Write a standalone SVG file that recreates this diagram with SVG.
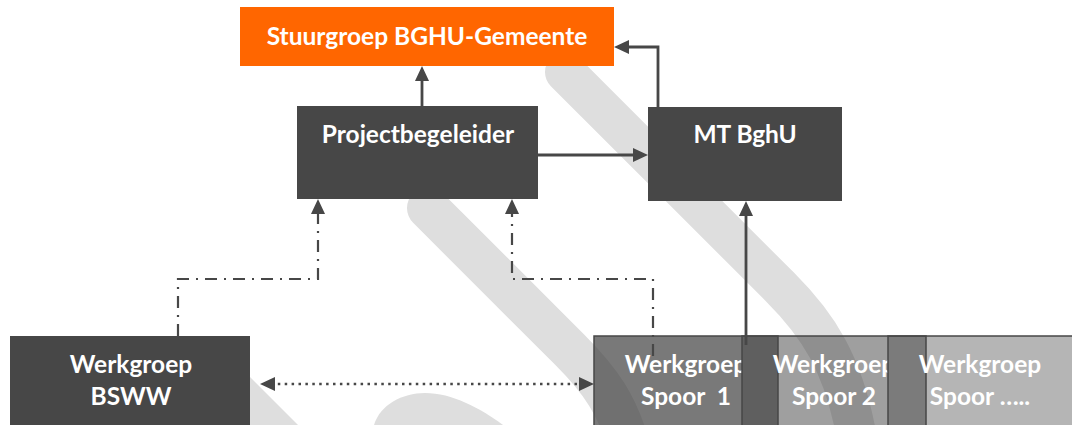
<svg xmlns="http://www.w3.org/2000/svg" width="1072" height="425" viewBox="0 0 1072 425">
<style>
.wm{fill:none;stroke:#dedede;stroke-linecap:round}
.wmf{fill:#dedede}
.dark{fill:#474747}
.t{font-family:Lato,"Open Sans","Liberation Sans",sans-serif;font-weight:700;fill:#ffffff;text-anchor:middle;white-space:pre;font-size:24.5px}
.c{fill:none;stroke:#474747;stroke-width:2.8}
.dd{fill:none;stroke:#474747;stroke-width:2.2;stroke-dasharray:12 7 2 7}
.dot{fill:none;stroke:#474747;stroke-width:2.6;stroke-dasharray:2.5 4.4}
.sp{stroke:#474747;stroke-width:1.5}
</style>
<defs>
<marker id="arr" viewBox="0 0 15 14" refX="11" refY="7" markerWidth="15" markerHeight="14" markerUnits="userSpaceOnUse" orient="auto-start-reverse">
<path d="M0,0 L15,7 L0,14 Z" fill="#474747"/>
</marker>
<clipPath id="clip1"><rect x="594" y="336" width="148" height="95"/></clipPath>
<clipPath id="clip2"><rect x="742" y="336" width="146" height="95"/></clipPath>
</defs>
<rect width="1072" height="425" fill="#ffffff"/>
<g id="watermark">
<path class="wm" stroke-width="40" d="M565 72 L780 287 C815 322 845 362 858 445"/>
<path class="wm" stroke-width="42" d="M428 208 L570 350 C600 380 618 405 630 450"/>
<polygon class="wmf" points="250,377 298,425 250,425"/>
<path class="wmf" d="M374 425 C380 405 402 393 425 393 C452 393 480 408 503 425 Z"/>
</g>
<g id="stuurgroep">
<rect x="240" y="7" width="374" height="59" fill="#ff6600"/>
<text class="t" x="427" y="45">Stuurgroep BGHU-Gemeente</text>
</g>
<g id="projectbegeleider">
<rect class="dark" x="297" y="106" width="241" height="93"/>
<text class="t" x="418" y="143">Projectbegeleider</text>
</g>
<g id="mtbghu">
<rect class="dark" x="648" y="107" width="194" height="94"/>
<text class="t" x="745" y="143">MT BghU</text>
</g>
<g id="bsww">
<rect class="dark" x="10" y="336" width="240" height="95"/>
<text class="t" x="131" y="373">Werkgroep</text>
<text class="t" x="131" y="405">BSWW</text>
</g>
<g id="spoor1">
<rect class="sp" x="594" y="336" width="184" height="95" fill="#474747" fill-opacity="0.73"/>
<g clip-path="url(#clip1)">
<text class="t" x="686" y="373">Werkgroep</text>
<text class="t" x="686" y="405">Spoor  1</text>
</g>
</g>
<g id="spoor2">
<rect class="sp" x="742" y="336" width="184" height="95" fill="#474747" fill-opacity="0.52"/>
<g clip-path="url(#clip2)">
<text class="t" x="834" y="373">Werkgroep</text>
<text class="t" x="834" y="405">Spoor 2</text>
</g>
</g>
<g id="spoor3">
<rect class="sp" x="888" y="336" width="190" height="95" fill="#474747" fill-opacity="0.40"/>
<text class="t" x="980" y="373">Werkgroep</text>
<text class="t" x="980" y="405">Spoor …..</text>
</g>
<g id="connectors">
<path class="c" d="M422 106 V70" marker-end="url(#arr)"/>
<path class="c" d="M658 107 V47 H618" marker-end="url(#arr)"/>
<path class="c" d="M538 155 H644" marker-end="url(#arr)"/>
<path class="c" d="M746 345 V205" marker-end="url(#arr)"/>
<path class="dd" d="M178 336 V279 H318 V203" marker-end="url(#arr)"/>
<path class="dd" d="M653 356 V279 H512 V203" marker-end="url(#arr)"/>
<path class="dot" d="M264 384 H590" marker-start="url(#arr)" marker-end="url(#arr)"/>
</g>
</svg>
